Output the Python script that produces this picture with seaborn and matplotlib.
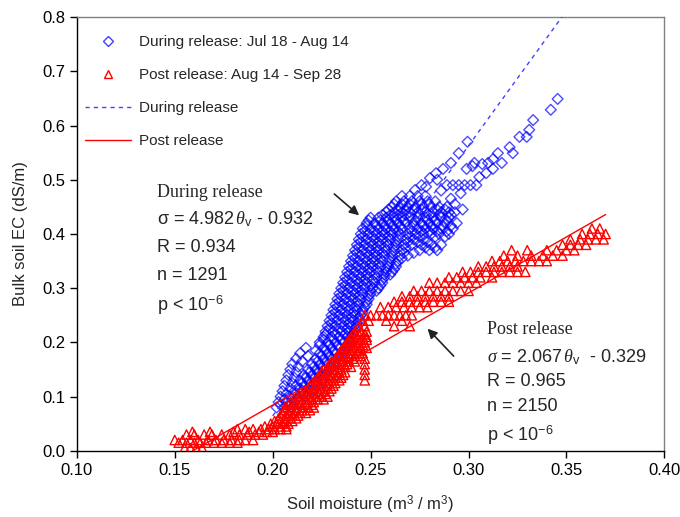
import numpy as np
import pandas as pd
import matplotlib
matplotlib.use("Agg")
import matplotlib.pyplot as plt
from matplotlib.lines import Line2D
import seaborn as sns

# ==============================
# DATA
# ==============================

# During release (Jul 18 - Aug 14): EC levels and soil moisture values on each level
during_ec_levels = [0.08, 0.09, 0.10, 0.11, 0.12, 0.13, 0.14, 0.15, 0.16, 0.17,
                    0.18, 0.19, 0.20, 0.21, 0.22, 0.23, 0.24, 0.25, 0.26, 0.27,
                    0.28, 0.29, 0.30, 0.31, 0.32, 0.33, 0.34, 0.35, 0.36, 0.37,
                    0.38, 0.39, 0.40, 0.41, 0.42, 0.43, 0.44, 0.45, 0.46, 0.47,
                    0.085, 0.095, 0.105, 0.115, 0.125, 0.135, 0.145, 0.155, 0.165, 0.175,
                    0.185, 0.195, 0.205, 0.215, 0.225, 0.235, 0.245, 0.255, 0.265, 0.275,
                    0.285, 0.295, 0.305, 0.315, 0.325, 0.335, 0.345, 0.355, 0.365, 0.375,
                    0.385, 0.395, 0.405, 0.415, 0.425, 0.435, 0.445, 0.455]
during_theta_by_level = [
    [0.202, 0.206, 0.210],
    [0.203, 0.207, 0.211, 0.214],
    [0.204, 0.209, 0.213, 0.217],
    [0.205, 0.211, 0.215, 0.219],
    [0.206, 0.212, 0.216, 0.220, 0.223],
    [0.207, 0.214, 0.218, 0.222, 0.225],
    [0.208, 0.216, 0.220, 0.224, 0.227],
    [0.209, 0.218, 0.222, 0.226, 0.229],
    [0.210, 0.220, 0.224, 0.228, 0.231],
    [0.212, 0.222, 0.226, 0.230, 0.233],
    [0.214, 0.224, 0.228, 0.232, 0.235],
    [0.217, 0.226, 0.230, 0.234, 0.237],
    [0.224, 0.228, 0.232, 0.236, 0.239],
    [0.226, 0.230, 0.234, 0.238, 0.240],
    [0.227, 0.231, 0.235, 0.239, 0.242],
    [0.228, 0.232, 0.236, 0.240, 0.243],
    [0.229, 0.233, 0.237, 0.241, 0.244],
    [0.230, 0.234, 0.238, 0.242, 0.245],
    [0.231, 0.235, 0.239, 0.243, 0.246],
    [0.232, 0.236, 0.240, 0.244, 0.248],
    [0.233, 0.237, 0.241, 0.245, 0.249],
    [0.234, 0.238, 0.242, 0.246, 0.250],
    [0.235, 0.239, 0.243, 0.247, 0.251, 0.254],
    [0.236, 0.240, 0.244, 0.248, 0.252, 0.256],
    [0.237, 0.241, 0.245, 0.249, 0.253, 0.257],
    [0.238, 0.242, 0.246, 0.250, 0.254, 0.258, 0.261],
    [0.239, 0.243, 0.247, 0.251, 0.255, 0.259, 0.263],
    [0.240, 0.244, 0.248, 0.252, 0.256, 0.260, 0.264],
    [0.241, 0.245, 0.249, 0.253, 0.257, 0.261, 0.265, 0.269],
    [0.242, 0.246, 0.250, 0.254, 0.258, 0.262, 0.266, 0.275, 0.280, 0.284],
    [0.243, 0.247, 0.251, 0.255, 0.259, 0.263, 0.267, 0.271, 0.276, 0.281, 0.286],
    [0.244, 0.248, 0.252, 0.256, 0.260, 0.264, 0.268, 0.272, 0.277],
    [0.245, 0.249, 0.253, 0.257, 0.261, 0.265, 0.269, 0.273, 0.277, 0.281, 0.285, 0.290],
    [0.246, 0.250, 0.254, 0.258, 0.262, 0.266, 0.270, 0.274, 0.278, 0.282, 0.286, 0.292],
    [0.248, 0.252, 0.256, 0.260, 0.264, 0.268, 0.272, 0.276, 0.280, 0.284, 0.288, 0.294],
    [0.250, 0.254, 0.258, 0.262, 0.266, 0.270, 0.274, 0.278, 0.282, 0.286, 0.290],
    [0.258, 0.262, 0.266, 0.270, 0.274, 0.278, 0.282, 0.286, 0.290, 0.293],
    [0.261, 0.265, 0.269, 0.273, 0.277, 0.281, 0.285, 0.289],
    [0.263, 0.267, 0.271, 0.275, 0.279, 0.283],
    [0.266, 0.270, 0.274, 0.278],
    # in-between levels
    [0.204, 0.208],
    [0.206, 0.212],
    [0.207, 0.211, 0.216],
    [0.209, 0.214, 0.218, 0.221],
    [0.210, 0.215, 0.219, 0.222],
    [0.211, 0.217, 0.221, 0.226],
    [0.212, 0.219, 0.223, 0.228],
    [0.213, 0.221, 0.225, 0.230],
    [0.215, 0.223, 0.227, 0.232],
    [0.218, 0.225, 0.229, 0.234],
    [0.222, 0.227, 0.231, 0.236],
    [0.224, 0.229, 0.233, 0.238],
    [0.226, 0.231, 0.235, 0.239],
    [0.227, 0.232, 0.237, 0.241],
    [0.229, 0.234, 0.238, 0.242],
    [0.230, 0.235, 0.239, 0.243],
    [0.231, 0.236, 0.240, 0.244],
    [0.232, 0.237, 0.241, 0.246],
    [0.233, 0.238, 0.242, 0.247],
    [0.234, 0.239, 0.243, 0.248],
    [0.235, 0.240, 0.244, 0.249],
    [0.236, 0.241, 0.245, 0.250, 0.253],
    [0.237, 0.242, 0.246, 0.250, 0.255],
    [0.238, 0.243, 0.247, 0.251, 0.256],
    [0.239, 0.244, 0.248, 0.252, 0.257, 0.260],
    [0.240, 0.245, 0.249, 0.253, 0.258, 0.262],
    [0.241, 0.246, 0.250, 0.254, 0.259, 0.263],
    [0.242, 0.247, 0.251, 0.255, 0.260, 0.266],
    [0.243, 0.248, 0.252, 0.256, 0.261, 0.267, 0.272],
    [0.244, 0.249, 0.253, 0.257, 0.262, 0.268, 0.278, 0.283],
    [0.245, 0.250, 0.254, 0.258, 0.263, 0.269, 0.274, 0.279],
    [0.246, 0.251, 0.255, 0.259, 0.264, 0.270, 0.275, 0.283, 0.288],
    [0.247, 0.252, 0.256, 0.260, 0.264, 0.271, 0.276, 0.280, 0.284, 0.289],
    [0.248, 0.253, 0.257, 0.261, 0.265, 0.272, 0.277, 0.281, 0.287, 0.291],
    [0.249, 0.255, 0.259, 0.263, 0.267, 0.273, 0.279, 0.283, 0.289],
    [0.256, 0.260, 0.264, 0.268, 0.275, 0.280, 0.285, 0.291],
    [0.259, 0.264, 0.268, 0.272, 0.276, 0.284, 0.288],
    [0.262, 0.266, 0.270, 0.276, 0.280],
]

# scattered wet-end points of the during-release period
during_tail_theta = [0.2727, 0.276, 0.2783, 0.2803, 0.2834, 0.287, 0.291, 0.295, 0.2995,
                     0.289, 0.292, 0.295, 0.298, 0.301, 0.304,
                     0.3055, 0.309, 0.3125, 0.303, 0.307, 0.310, 0.3125, 0.317, 0.315,
                     0.321, 0.3226, 0.326, 0.3297, 0.331, 0.333, 0.342, 0.3455,
                     0.284, 0.299, 0.302, 0.286, 0.296, 0.291, 0.293, 0.297]
during_tail_ec = [0.481, 0.490, 0.487, 0.503, 0.512, 0.520, 0.531, 0.549, 0.570,
                  0.490, 0.490, 0.490, 0.490, 0.490, 0.490,
                  0.505, 0.512, 0.520, 0.531, 0.529, 0.531, 0.538, 0.531, 0.549,
                  0.560, 0.549, 0.579, 0.579, 0.592, 0.610, 0.629, 0.649,
                  0.500, 0.520, 0.525, 0.480, 0.475, 0.465, 0.455, 0.445]

# Post release (Aug 14 - Sep 28)
post_ec_levels = [0.005, 0.015, 0.02, 0.03, 0.035, 0.04, 0.05, 0.06, 0.07, 0.08,
                  0.09, 0.10, 0.11, 0.12, 0.13, 0.14, 0.15, 0.16, 0.17, 0.18,
                  0.19, 0.20, 0.21, 0.22, 0.23, 0.24, 0.25, 0.265, 0.275, 0.285,
                  0.295, 0.31, 0.32, 0.33, 0.34, 0.35, 0.36, 0.37, 0.38, 0.39,
                  0.40, 0.41,
                  0.045, 0.055, 0.065, 0.075, 0.085, 0.095, 0.105, 0.115, 0.125,
                  0.135, 0.145, 0.155, 0.165, 0.175, 0.185, 0.195, 0.205, 0.215]
post_theta_by_level = [
    [0.155, 0.158, 0.161, 0.164],
    [0.152, 0.156, 0.160, 0.163, 0.166, 0.170, 0.174, 0.178, 0.182],
    [0.150, 0.154, 0.158, 0.162, 0.167, 0.171, 0.175, 0.179, 0.183, 0.186, 0.190],
    [0.156, 0.160, 0.165, 0.169, 0.174, 0.178, 0.183, 0.187, 0.191, 0.195],
    [0.159, 0.168, 0.180, 0.188, 0.193, 0.197, 0.200],
    [0.182, 0.186, 0.190, 0.194, 0.198, 0.201, 0.204, 0.207],
    [0.199, 0.202, 0.205, 0.208],
    [0.203, 0.206, 0.209, 0.212],
    [0.205, 0.208, 0.211, 0.214, 0.217],
    [0.206, 0.209, 0.212, 0.215, 0.218, 0.221],
    [0.209, 0.212, 0.215, 0.218, 0.221],
    [0.213, 0.216, 0.219, 0.222, 0.225, 0.228],
    [0.217, 0.220, 0.223, 0.226, 0.229],
    [0.219, 0.222, 0.225, 0.228, 0.231],
    [0.222, 0.225, 0.228, 0.231, 0.234, 0.247],
    [0.224, 0.227, 0.230, 0.233, 0.236, 0.247],
    [0.226, 0.229, 0.232, 0.235, 0.247],
    [0.229, 0.232, 0.235, 0.238, 0.247],
    [0.232, 0.235, 0.238, 0.241, 0.247],
    [0.234, 0.237, 0.240, 0.243, 0.246],
    [0.236, 0.239, 0.242, 0.245, 0.248],
    [0.238, 0.241, 0.244, 0.247],
    [0.240, 0.243, 0.246, 0.248],
    [0.242, 0.245, 0.248],
    [0.244, 0.247, 0.262, 0.270],
    [0.246, 0.249, 0.258, 0.266],
    [0.247, 0.250, 0.253, 0.256, 0.259, 0.262, 0.265, 0.268, 0.271],
    [0.255, 0.259, 0.263, 0.267, 0.271, 0.275, 0.279],
    [0.262, 0.266, 0.270, 0.274, 0.278, 0.282, 0.286, 0.290],
    [0.266, 0.270, 0.274, 0.278, 0.282, 0.286, 0.290],
    [0.272, 0.276, 0.280, 0.284, 0.288, 0.292, 0.296, 0.300],
    [0.280, 0.284, 0.288, 0.292, 0.296, 0.300, 0.304],
    [0.290, 0.294, 0.298, 0.302, 0.306, 0.312],
    [0.297, 0.301, 0.305, 0.309, 0.313, 0.317, 0.321, 0.325, 0.329],
    [0.305, 0.309, 0.313, 0.317, 0.321, 0.325],
    [0.312, 0.316, 0.320, 0.324, 0.328, 0.332, 0.336, 0.340],
    [0.318, 0.325, 0.332, 0.338, 0.343, 0.348],
    [0.322, 0.330, 0.340, 0.345, 0.350, 0.354],
    [0.348, 0.352, 0.356, 0.360],
    [0.352, 0.357, 0.361, 0.365, 0.369],
    [0.358, 0.362, 0.366, 0.370],
    [0.363, 0.367],
    # in-between levels
    [0.196, 0.200, 0.204, 0.207],
    [0.201, 0.204, 0.207, 0.210],
    [0.204, 0.207, 0.210, 0.213],
    [0.206, 0.209, 0.212, 0.215, 0.219],
    [0.208, 0.211, 0.214, 0.217, 0.220],
    [0.211, 0.214, 0.217, 0.220, 0.223, 0.226],
    [0.215, 0.218, 0.221, 0.224, 0.227],
    [0.218, 0.221, 0.224, 0.227, 0.230],
    [0.220, 0.223, 0.226, 0.229, 0.232],
    [0.223, 0.226, 0.229, 0.232, 0.235],
    [0.225, 0.228, 0.231, 0.234, 0.237],
    [0.228, 0.231, 0.234, 0.237, 0.240],
    [0.230, 0.233, 0.236, 0.239, 0.242],
    [0.233, 0.236, 0.239, 0.242, 0.245],
    [0.235, 0.238, 0.241, 0.244],
    [0.237, 0.240, 0.243, 0.246],
    [0.239, 0.242, 0.245, 0.248],
    [0.241, 0.244, 0.247],
]

# regression lines given on the chart: sigma = a * theta + b
during_fit = (4.982, -0.932)
post_fit = (2.067, -0.329)
during_fit_range = [0.20, 0.35]
post_fit_range = [0.16, 0.37]

# ==============================
# BUILD TABLES
# ==============================
during = pd.DataFrame({
    "theta": [t for row in during_theta_by_level for t in row] + during_tail_theta,
    "ec": [lv for lv, row in zip(during_ec_levels, during_theta_by_level) for _ in row]
          + during_tail_ec,
})
post = pd.DataFrame({
    "theta": [t for row in post_theta_by_level for t in row],
    "ec": [lv for lv, row in zip(post_ec_levels, post_theta_by_level) for _ in row],
})

# ==============================
# PLOT
# ==============================
sns.set_theme(style="ticks")
plt.rcParams["font.family"] = ["Liberation Sans", "DejaVu Sans"]
plt.rcParams["mathtext.fontset"] = "custom"
plt.rcParams["mathtext.rm"] = "Liberation Sans"
plt.rcParams["mathtext.it"] = "Liberation Serif:italic"

BLUE = "#0000ff"
RED = "#ff0000"

fig = plt.figure(figsize=(6.8, 5.17), dpi=100)
ax = fig.add_axes([0.113, 0.128, 0.864, 0.839])

sns.scatterplot(data=during, x="theta", y="ec", marker="D", s=30, color=BLUE,
                edgecolor=BLUE, linewidth=1, alpha=0.7, ax=ax, zorder=2)
sns.scatterplot(data=post, x="theta", y="ec", marker="^", s=45, color=RED,
                edgecolor=RED, linewidth=1, ax=ax, zorder=3)
for coll in ax.collections:
    coll.set_facecolor("none")

fx = np.array(during_fit_range)
sns.lineplot(x=fx, y=np.polyval(during_fit, fx), color="#4040ff", lw=1,
             linestyle=(0, (3, 3)), ax=ax, zorder=4)
px = np.array(post_fit_range)
sns.lineplot(x=px, y=np.polyval(post_fit, px), color=RED, lw=1, ax=ax, zorder=4)

ax.set_xlim(0.10, 0.40)
ax.set_ylim(0.0, 0.8)
ax.set_xticks(np.arange(0.10, 0.401, 0.05))
ax.set_yticks(np.arange(0.0, 0.801, 0.1))
ax.xaxis.set_major_formatter(matplotlib.ticker.FormatStrFormatter("%.2f"))
ax.yaxis.set_major_formatter(matplotlib.ticker.FormatStrFormatter("%.1f"))
ax.tick_params(direction="out", length=5, width=1, labelsize=12, colors="black")
for side in ["left", "bottom"]:
    ax.spines[side].set_color("black")
    ax.spines[side].set_linewidth(1)
for side in ["top", "right"]:
    ax.spines[side].set_color("#808080")
    ax.spines[side].set_linewidth(1)

ax.set_xlabel(r"Soil moisture (m$^3$ / m$^3$)", fontsize=12, labelpad=12)
ax.set_ylabel("Bulk soil EC (dS/m)", fontsize=12, labelpad=10)

# legend
handles = [
    Line2D([], [], marker="D", ls="none", mfc="none", mec="#4040ff", ms=5, mew=1),
    Line2D([], [], marker="^", ls="none", mfc="none", mec=RED, ms=6, mew=1),
    Line2D([], [], color="#4040ff", lw=1, ls=(0, (3, 3))),
    Line2D([], [], color=RED, lw=1),
]
labels = ["During release: Jul 18 - Aug 14", "Post release: Aug 14 - Sep 28",
          "During release", "Post release"]
ax.legend(handles, labels, loc="upper left", bbox_to_anchor=(-0.01, 0.99),
          frameon=False, fontsize=11, handlelength=3.0, labelspacing=1.25,
          handletextpad=0.55)

# annotations
serif = ["Liberation Serif", "DejaVu Serif"]
fs = 13
ax.text(0.1408, 0.477, "During release", family=serif, fontsize=fs, va="center")
ax.text(0.1408, 0.427, r"σ = 4.982$\,\theta_{\rm v}$ - 0.932", fontsize=fs, va="center")
ax.text(0.1408, 0.375, "R = 0.934", fontsize=fs, va="center")
ax.text(0.1408, 0.323, "n = 1291", fontsize=fs, va="center")
ax.text(0.1408, 0.268, r"p < 10$^{-6}$", fontsize=fs, va="center")

ax.text(0.3095, 0.223, "Post release", family=serif, fontsize=fs, va="center")
ax.text(0.3095, 0.173, r"$\sigma$ = 2.067$\,\theta_{\rm v}$  - 0.329", fontsize=fs, va="center")
ax.text(0.3095, 0.127, "R = 0.965", fontsize=fs, va="center")
ax.text(0.3095, 0.081, "n = 2150", fontsize=fs, va="center")
ax.text(0.3095, 0.029, r"p < 10$^{-6}$", fontsize=fs, va="center")

arrow = dict(arrowstyle="-|>", color="#222222", lw=1.2, mutation_scale=14)
ax.annotate("", xy=(0.2452, 0.431), xytext=(0.2304, 0.477), arrowprops=arrow)
ax.annotate("", xy=(0.2781, 0.229), xytext=(0.2934, 0.171), arrowprops=arrow)

fig.savefig("out.png", dpi=100)
